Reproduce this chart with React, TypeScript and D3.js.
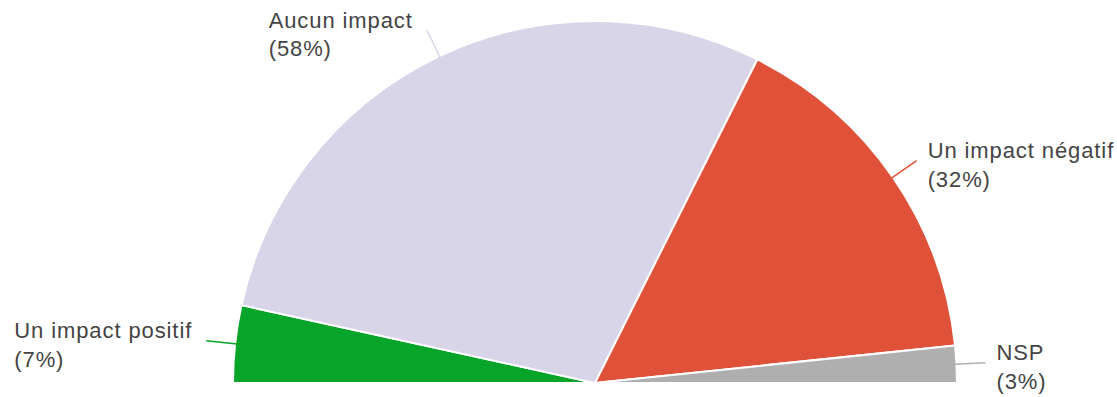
import React from "react";
import * as d3 from "d3";

const categories = ["Un impact positif", "Aucun impact", "Un impact négatif", "NSP"];
const values = [6.9, 57.9, 31.9, 3.3];
const percentLabels = ["(7%)", "(58%)", "(32%)", "(3%)"];
const colors = ["#06a52a", "#d8d5e9", "#e05139", "#afafaf"];

const W = 1117;
const H = 397;
const FONT_SIZE = 22;
const LETTER_SPACING = 0.9;
const FONT = `${FONT_SIZE}px Arial, "Liberation Sans", sans-serif`;

function measure(text: string): number {
  if (typeof document === "undefined") return text.length * 11;
  const c = document.createElement("canvas");
  const ctx = c.getContext("2d");
  if (!ctx) return text.length * 11;
  ctx.font = FONT;
  return ctx.measureText(text).width + LETTER_SPACING * (text.length - 1);
}

export default function App() {
  const cx = 595;
  const cy = 383;
  const r = 362;
  const data = categories.map((c, i) => ({ cat: c, value: values[i], pct: percentLabels[i], color: colors[i] }));
  const pie = d3
    .pie<any>()
    .value((d: any) => d.value)
    .sort(null)
    .startAngle(-Math.PI / 2)
    .endAngle(Math.PI / 2);
  const arcs = pie(data);
  const arc = d3.arc<any>().innerRadius(0).outerRadius(r);
  const lineLen = 29;
  const lineH = 28.5;

  return (
    <svg
      width={W}
      height={H}
      style={{ position: "absolute", left: 0, top: 0, background: "#fff" }}
      fontFamily='Arial, "Liberation Sans", sans-serif'
    >
      <g transform={`translate(${cx},${cy})`}>
        {arcs.map((a, i) => (
          <path key={i} d={arc(a) || ""} fill={a.data.color} stroke="#fff" strokeWidth={2} strokeLinejoin="round" />
        ))}
      </g>
      {arcs.map((a, i) => {
        const mid = (a.startAngle + a.endAngle) / 2;
        const sx = cx + Math.sin(mid) * (r - 2);
        const sy = cy - Math.cos(mid) * (r - 2);
        const ex = cx + Math.sin(mid) * (r + lineLen);
        const ey = cy - Math.cos(mid) * (r + lineLen);
        const right = Math.sin(mid) > 0;
        const w = Math.max(measure(a.data.cat), measure(a.data.pct));
        const tx = right ? ex + 11 : ex - 15 - w;
        const b1 = ey - 2.5;
        return (
          <g key={"l" + i}>
            <line x1={sx} y1={sy} x2={ex} y2={ey} stroke={a.data.color} strokeWidth={1.5} />
            <text x={tx} y={b1} fontSize={FONT_SIZE} letterSpacing={LETTER_SPACING} fill="#444">
              {a.data.cat}
            </text>
            <text x={tx} y={b1 + lineH} fontSize={FONT_SIZE} letterSpacing={LETTER_SPACING} fill="#444">
              {a.data.pct}
            </text>
          </g>
        );
      })}
    </svg>
  );
}
